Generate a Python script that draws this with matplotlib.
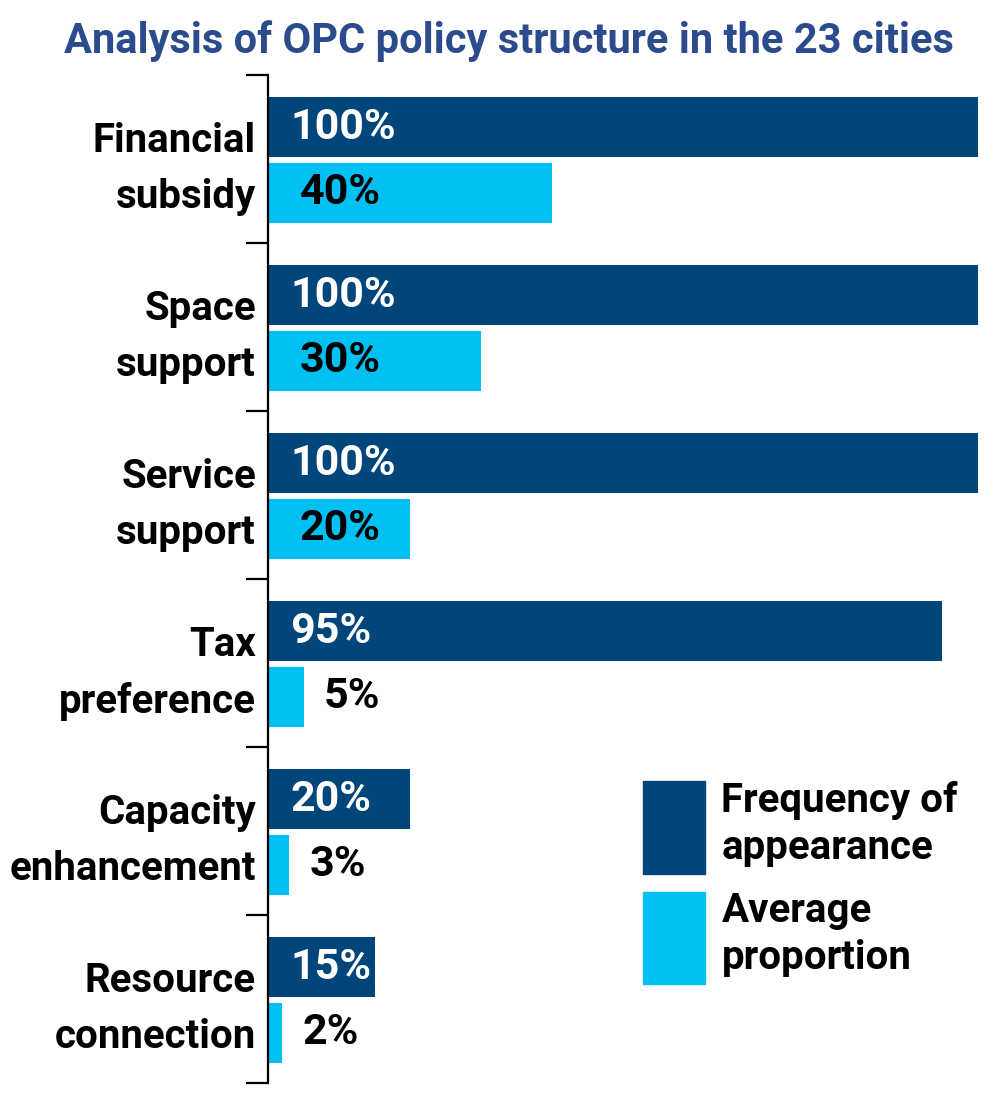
import matplotlib
matplotlib.use("Agg")
import matplotlib.pyplot as plt
from matplotlib.patches import Patch

plt.rcParams["font.family"] = ["Liberation Sans Narrow", "Roboto", "DejaVu Sans"]
plt.rcParams["font.weight"] = "bold"

categories = [
    "Financial\nsubsidy",
    "Space\nsupport",
    "Service\nsupport",
    "Tax\npreference",
    "Capacity\nenhancement",
    "Resource\nconnection",
]
frequency = [100, 100, 100, 95, 20, 15]
proportion = [40, 30, 20, 5, 3, 2]
series_names = ["Frequency of\nappearance", "Average\nproportion"]

DARK = "#00467A"
LIGHT = "#00BFF3"
TITLE = "#2B4B8C"

fig = plt.figure(figsize=(9.99, 11.05), dpi=100)
ax = fig.add_axes([268 / 999, 1 - 1083 / 1105, 710 / 999, 1008 / 1105])

bar_h = 0.357
for i, (f, p) in enumerate(zip(frequency, proportion)):
    ax.barh(i + 0.31, f / 100, height=bar_h, color=DARK)
    ax.barh(i + 0.702, p / 100, height=bar_h, color=LIGHT)
    ax.text(0.031, i + 0.31, f"{f}%", color="white", fontsize=31,
            va="center", ha="left")
    # small values go just past the bar end
    if p >= 10:
        px = 0.045
    else:
        px = p / 100 + 0.028
    ax.text(px, i + 0.702, f"{p}%", color="black", fontsize=31,
            va="center", ha="left")
    ax.text(-0.017, i + 0.56, categories[i], fontsize=29, ha="right",
            va="center", linespacing=1.58, color="black")

ax.set_xlim(0, 1)
ax.set_ylim(6, 0)
ax.set_yticks(range(7))
ax.set_yticklabels([])
ax.set_xticks([])
ax.tick_params(axis="y", length=16, width=1.6, direction="out", color="black")
for s in ["top", "right", "bottom"]:
    ax.spines[s].set_visible(False)
ax.spines["left"].set_linewidth(1.6)

handles = [Patch(color=DARK), Patch(color=LIGHT)]
leg = ax.legend(handles, series_names, loc="upper left",
                bbox_to_anchor=(0.528, 0.2996), frameon=False, fontsize=29,
                handlelength=1.55, handleheight=3.15, handletextpad=0.4,
                labelspacing=0.45, borderpad=0, borderaxespad=0)
for t in leg.get_texts():
    t.set_linespacing(1.3)

fig.text(0.509, 1 - 41 / 1105, "Analysis of OPC policy structure in the 23 cities",
         color=TITLE, fontsize=30, ha="center", va="center")

fig.savefig("out.png", dpi=100)
